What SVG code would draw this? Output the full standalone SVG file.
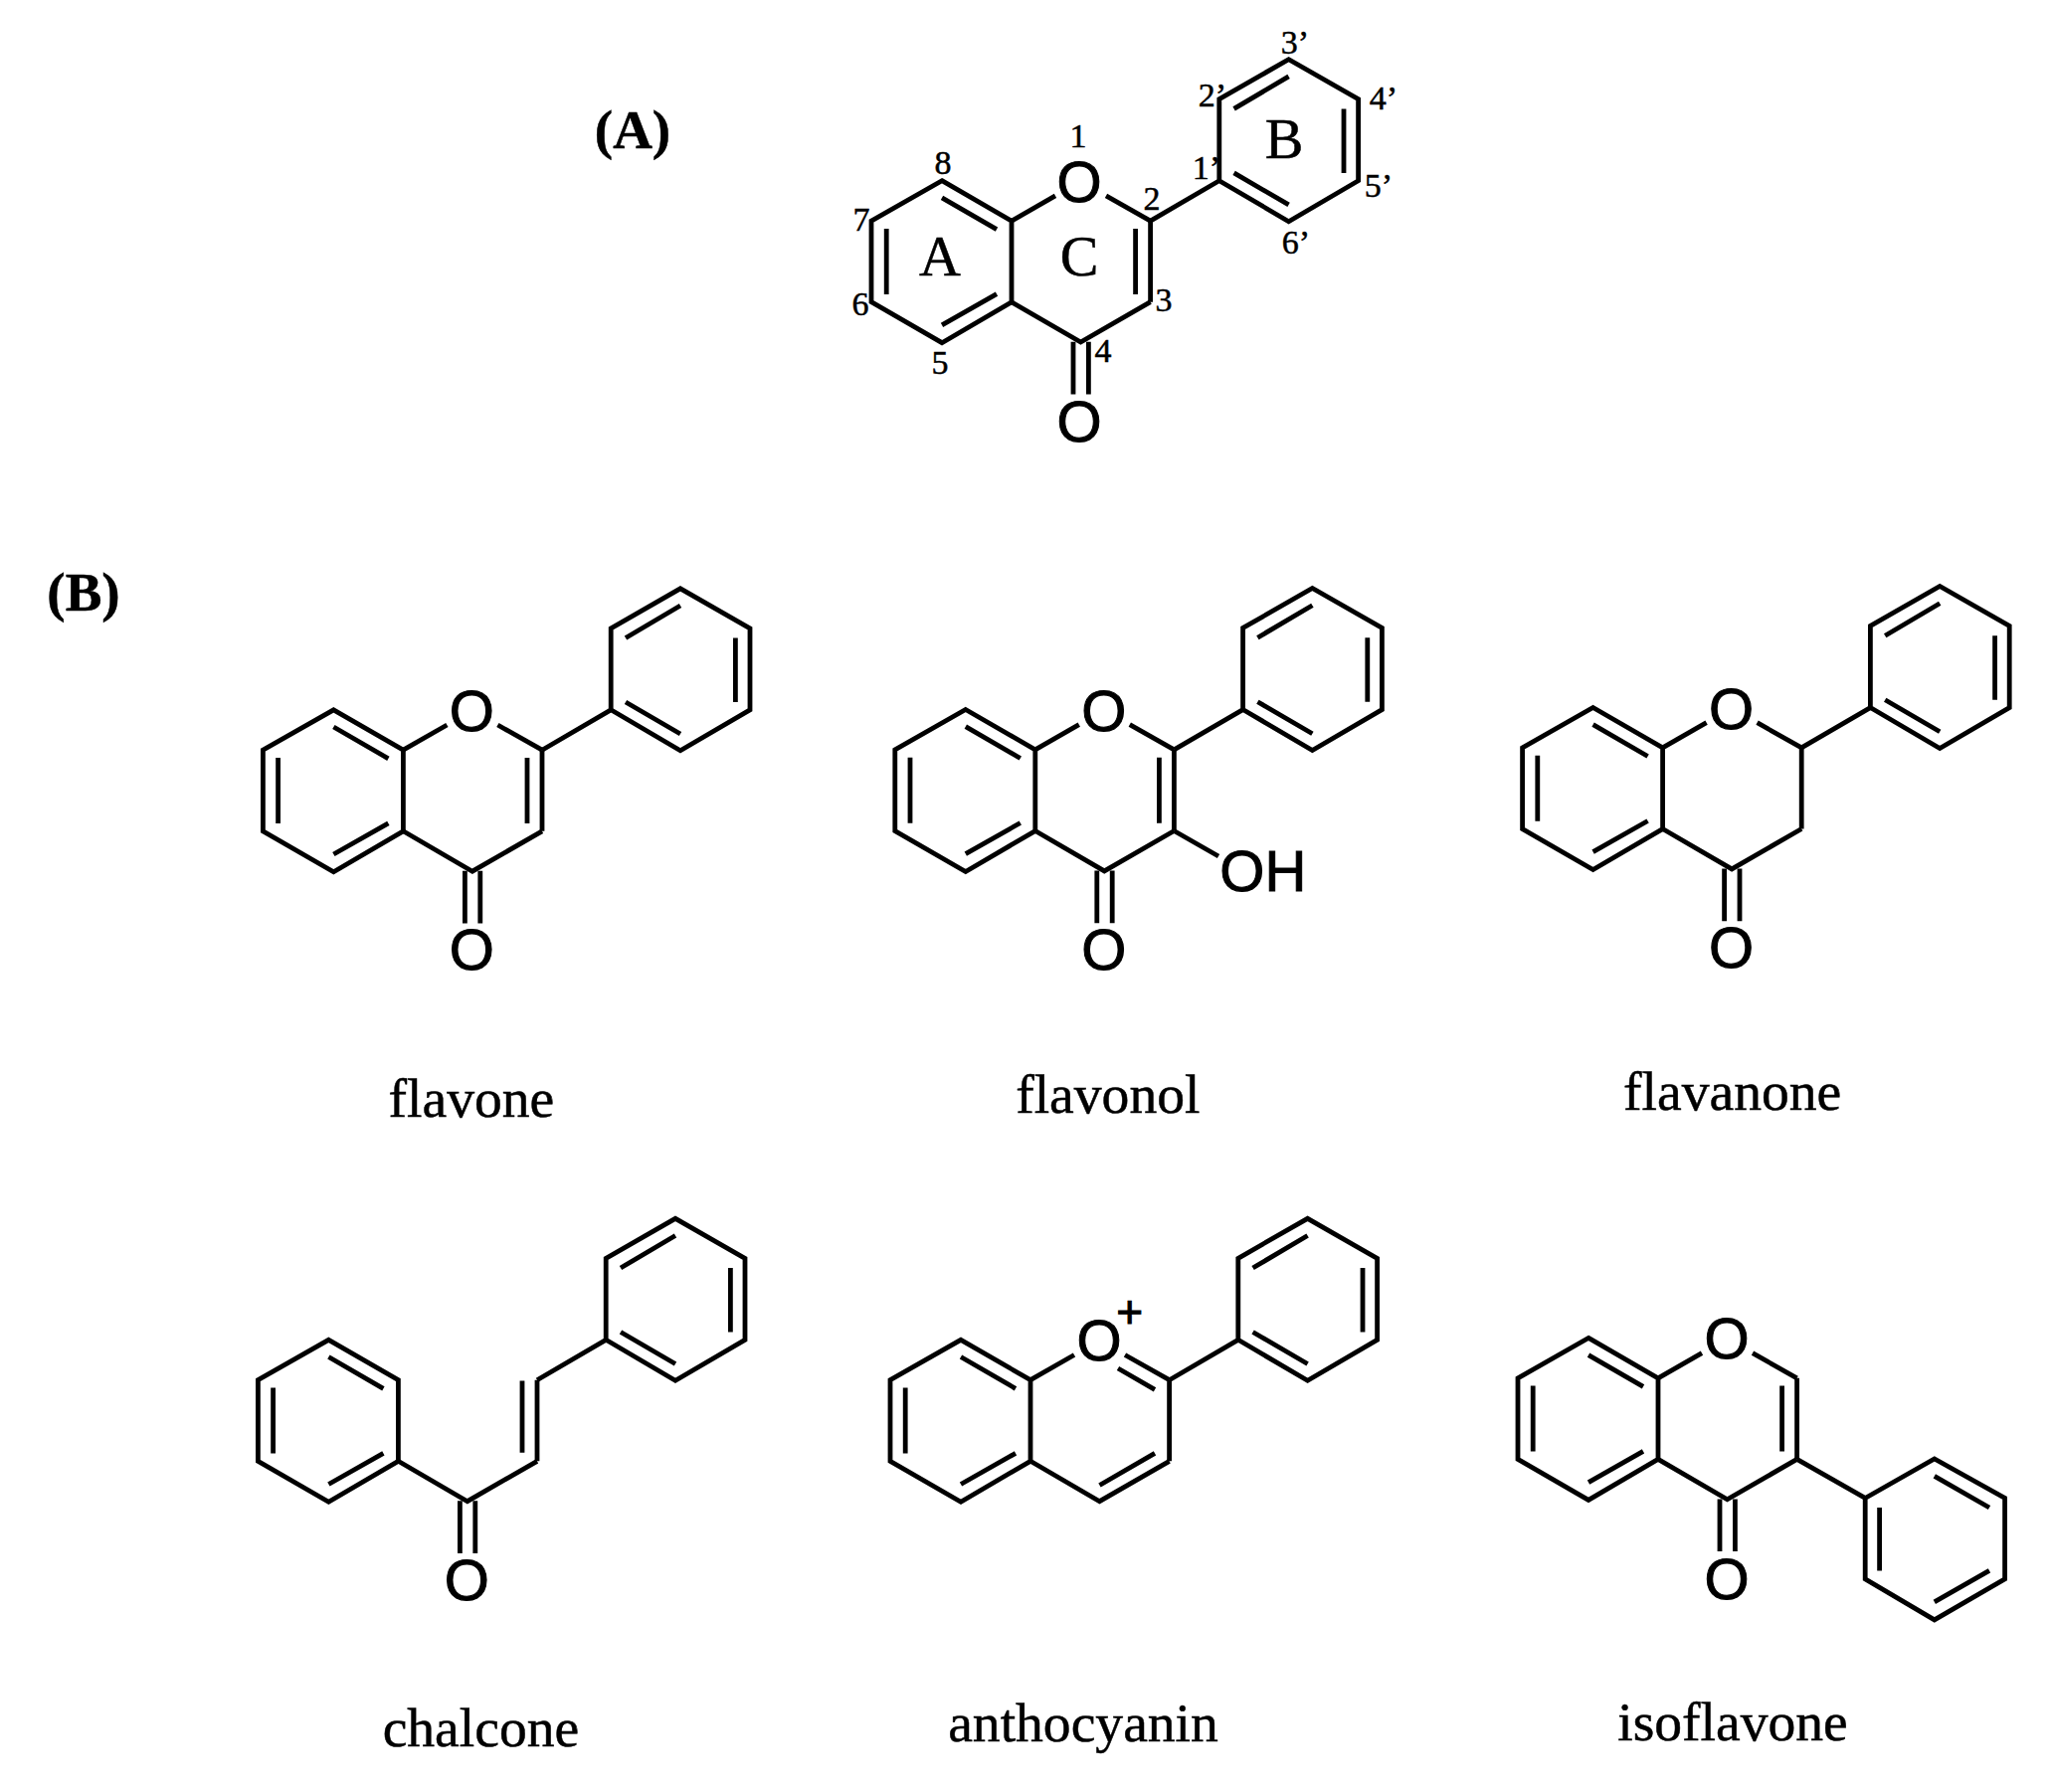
<svg xmlns="http://www.w3.org/2000/svg" width="2062" height="1802" viewBox="0 0 2062 1802">
<style>
.b{fill:none;stroke:#000;stroke-width:4.8;stroke-linejoin:miter;stroke-linecap:butt}
text{fill:#000;stroke:#000;text-anchor:middle}
.at{font-family:"Liberation Sans",Arial,sans-serif;font-size:58px;stroke-width:1}
.nm{font-family:"Liberation Serif","Times New Roman",serif;font-size:55.6px;stroke-width:.5}
.num{font-family:"Liberation Serif","Times New Roman",serif;font-size:34px;stroke-width:.5}
.ring{font-family:"Liberation Serif","Times New Roman",serif;font-size:58px;stroke-width:.5}
.pn{font-family:"Liberation Serif","Times New Roman",serif;font-size:55px;font-weight:bold;stroke-width:.5}
</style>
<defs>
<path id="benzo" class="b" d="M-140 0L-70 40.4V122L-140 163L-211 122V40.4ZM-195.8 48.2V114.2M-140 17.2L-85 49M-140 145.2L-85 114"/>
<path id="phenyl" class="b" d="M69.6 40.4L138.8 0V-82L208.6 -122L278.6 -82V0L208.6 41L138.8 0M153.6 -72.3L208.6 -104.8M264 -72.3V-7.8M153.6 -7.8L208.6 24.2"/>
<path id="lowerC" class="b" d="M-70 122L-0.5 162.4L69.6 122"/>
<path id="carbonyl" class="b" d="M-8 162V214.7M7.4 162V214.7"/>
<path id="c2c3" class="b" d="M69.6 40.4V122M54.6 48.2V114.2"/>
<path id="oLeft" class="b" d="M-70 40.4L-26 15.2"/>
<path id="oRight" class="b" d="M25 15.2L69.6 40.4"/>
</defs>
<rect width="2062" height="1802" fill="#fff"/>
<g id="panel-labels">
<text class="pn" x="636" y="149">(A)</text>
<text class="pn" x="84" y="614">(B)</text>
</g>
<g id="core-A" transform="translate(1087 181.7)">
<use href="#benzo"/><use href="#phenyl"/><use href="#lowerC"/><use href="#carbonyl"/><use href="#c2c3"/><use href="#oLeft"/><use href="#oRight"/>
<text class="at" x="-2" y="21">O</text><text class="at" x="-2" y="262">O</text>
</g>
<g id="core-A-numbers">
<text class="num" x="1084" y="148">1</text><text class="num" x="1158" y="211">2</text><text class="num" x="1170" y="313">3</text><text class="num" x="1109" y="364">4</text>
<text class="num" x="945" y="376">5</text><text class="num" x="865" y="317">6</text><text class="num" x="866" y="232">7</text><text class="num" x="948" y="175">8</text>
<text class="num" x="1213" y="180">1’</text><text class="num" x="1219" y="107">2’</text><text class="num" x="1302" y="54">3’</text><text class="num" x="1391" y="110">4’</text><text class="num" x="1386" y="198">5’</text><text class="num" x="1303" y="255">6’</text>
<text class="ring" x="945" y="277">A</text><text class="ring" x="1085" y="277">C</text><text class="ring" x="1291" y="159">B</text>
</g>
<g id="flavone" transform="translate(475.4 713.8)">
<use href="#benzo"/><use href="#phenyl"/><use href="#lowerC"/><use href="#carbonyl"/><use href="#c2c3"/><use href="#oLeft"/><use href="#oRight"/>
<text class="at" x="-1" y="21">O</text><text class="at" x="-1" y="261.5">O</text>
<text class="nm" x="-1.5" y="409">flavone</text>
</g>
<g id="flavonol" transform="translate(1110.8 713.5)">
<use href="#benzo"/><use href="#phenyl"/><use href="#lowerC"/><use href="#carbonyl"/><use href="#c2c3"/><use href="#oLeft"/><use href="#oRight"/>
<path class="b" d="M69.6 122L114.2 147.5"/>
<text class="at" x="-1" y="21">O</text><text class="at" x="-1" y="261.5">O</text>
<text class="at" x="159" y="182.5">OH</text>
<text class="nm" x="3" y="405">flavonol</text>
</g>
<g id="flavanone" transform="translate(1741.6 711.5)">
<use href="#benzo"/><use href="#phenyl"/><use href="#lowerC"/><use href="#carbonyl"/><use href="#oLeft"/><use href="#oRight"/>
<path class="b" d="M69.6 40.4V122"/>
<text class="at" x="-1" y="21">O</text><text class="at" x="-1" y="261.5">O</text>
<text class="nm" x="0" y="404.5">flavanone</text>
</g>
<g id="chalcone" transform="translate(470.4 1347.3)">
<use href="#benzo"/><use href="#phenyl"/><use href="#lowerC"/><use href="#carbonyl"/>
<path class="b" d="M69.6 40.4V122M54.6 41.2V113.5"/>
<text class="at" x="-1" y="262">O</text>
<text class="nm" x="13" y="409">chalcone</text>
</g>
<g id="anthocyanin" transform="translate(1106 1347.3)">
<use href="#benzo"/><use href="#phenyl"/><use href="#lowerC"/><use href="#oLeft"/>
<path class="b" d="M69.6 40.4V122M25 15.2L69.6 40.4M18 28.7L55 50M55 114L-0.5 146.2"/>
<text class="at" x="-1" y="21">O</text>
<text class="at" style="font-size:46px;stroke-width:1" x="29.8" y="-12.5">+</text>
<text class="nm" x="-17" y="404">anthocyanin</text>
</g>
<g id="isoflavone" transform="translate(1737 1345.4)">
<use href="#benzo"/><use href="#lowerC"/><use href="#carbonyl"/><use href="#c2c3"/><use href="#oLeft"/><use href="#oRight"/>
<path class="b" d="M69.6 122L138.2 161.1V242.5L207.8 283.5L278.6 242.5V161.1L207.8 121.6L138.2 161.1M152.6 170.6V234M207.8 139L263 170.6M207.8 265.5L263 234"/>
<text class="at" x="-1" y="21">O</text><text class="at" x="-1" y="262.5">O</text>
<text class="nm" x="5" y="405">isoflavone</text>
</g>
</svg>
